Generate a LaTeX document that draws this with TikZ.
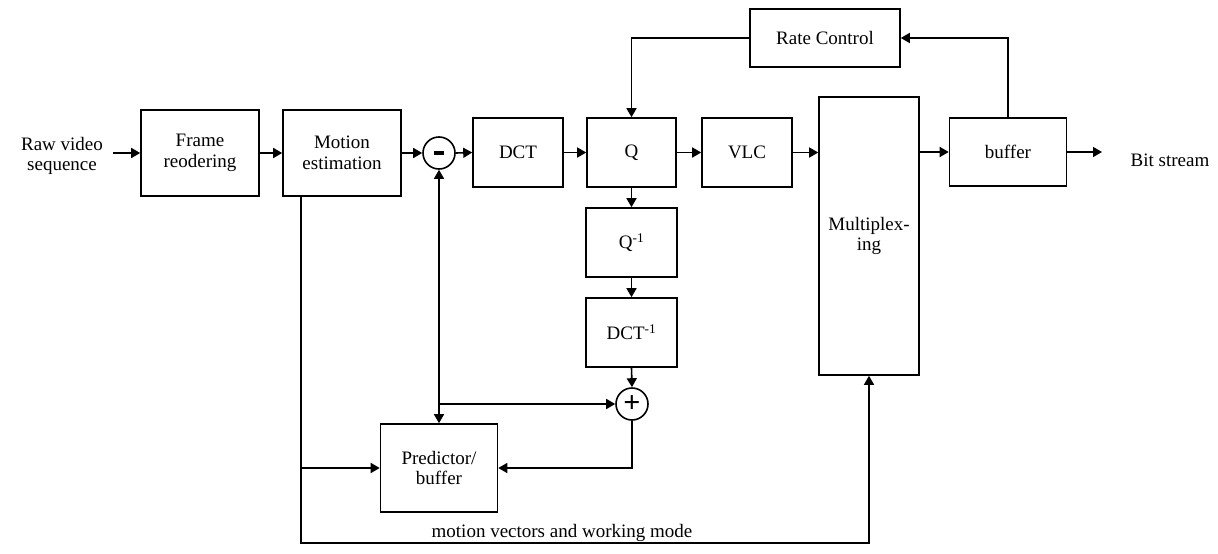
\documentclass[tikz,border=0pt]{standalone}
\usepackage{fontspec}
\setmainfont{Liberation Serif}
\usetikzlibrary{arrows.meta}
\begin{document}
\begin{tikzpicture}[x=1pt,y=-1pt,
  font=\fontsize{19}{20.5}\selectfont,
  line width=1.6pt,
  blk/.style={draw,align=center,inner sep=0pt},
  sumc/.style={draw,circle,minimum size=32pt,inner sep=0pt},
  arr/.style={-{Triangle[length=9pt,width=10pt]}},
  lbl/.style={align=center,inner sep=0pt}]
\useasboundingbox (0,0) rectangle (1218,554);
% nodes
\node[lbl] (raw) at (62,156) {Raw video\\sequence};
\node[blk,minimum width=118pt,minimum height=86pt] (fr) at (200,153) {Frame\\reodering};
\node[blk,minimum width=118pt,minimum height=86pt] (me) at (342,153) {Motion\\estimation};
\node[sumc] (minus) at (439,153) {\rule{10pt}{3.5pt}};
\node[blk,minimum width=90pt,minimum height=69pt] (dct) at (518,152.5) {DCT};
\node[blk,minimum width=89pt,minimum height=69pt] (q) at (631.5,152.5) {Q};
\node[blk,minimum width=90pt,minimum height=69pt] (vlc) at (747,152.5) {VLC};
\node[blk,minimum width=150pt,minimum height=58pt] (rc) at (825,38) {Rate Control};
\node[blk,minimum width=100pt,minimum height=278pt] (mux) at (869,236) {Multiplex-\\ing};
\node[blk,minimum width=117pt,minimum height=68pt] (buf) at (1008,152) {buffer};
\node[lbl] (bits) at (1170,160) {Bit stream};
\node[blk,minimum width=91pt,minimum height=69pt] (qi) at (631.5,242.5) {Q\textsuperscript{-1}};
\node[blk,minimum width=91pt,minimum height=69pt] (dcti) at (631.5,332.5) {DCT\textsuperscript{-1}};
\node[sumc] (plus) at (632,404) {\fontsize{30}{30}\selectfont\textbf{+}};
\node[blk,minimum width=117pt,minimum height=88pt] (pred) at (439,468) {Predictor/\\buffer};
\node[lbl] (mvl) at (562,533) {motion vectors and working mode};
% coordinates
\coordinate (in) at (113,153);
\coordinate (out) at (1102,152);
\coordinate (j) at (439,404);
\coordinate (mvb) at (301,543);
% connectors
\draw[arr] (in) -- (fr.west);
\draw[arr] (fr) -- (me);
\draw[arr] (me.east) -- (minus.west);
\draw[arr] (minus.east) -- (dct.west);
\draw[arr] (dct) -- (q);
\draw[arr] (q) -- (vlc);
\draw[arr] (vlc.east) -- (vlc.east -| mux.west);
\draw[arr] (buf.west -| mux.east) -- (buf.west);
\draw[arr] (buf.east) -- (out);
\draw[arr] (rc.west) -| (q.north);
\draw[arr] (buf.north) |- (rc.east);
\draw[arr] (q.south) -- (qi.north);
\draw[arr] (qi.south) -- (dcti.north);
\draw[arr] (dcti.south) -- (plus.north);
\draw[arr] (j) -- (minus.south);
\draw[arr] (j) -- (pred.north);
\draw[arr] (j) -- (plus.west);
\draw[arr] (plus.south) |- (pred.east);
\draw[arr] (mvb |- me.south) -- (mvb) -| (mux.south);
\draw[arr] (mvb |- pred.west) -- (pred.west);
\end{tikzpicture}
\end{document}
